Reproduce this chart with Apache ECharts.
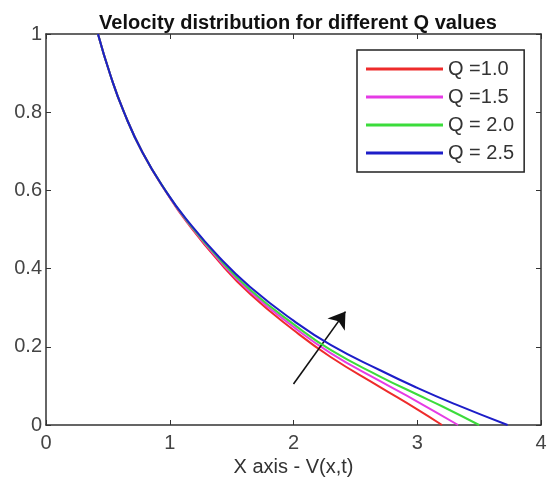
<!DOCTYPE html>
<html>
<head>
<meta charset="utf-8">
<script src="https://cdn.jsdelivr.net/npm/echarts@6/dist/echarts.min.js"></script>
<style>
  html, body { margin: 0; padding: 0; background: #fff; }
  #chart { width: 548px; height: 483px; }
</style>
</head>
<body>
<div id="chart"></div>
<script>
var names = ['Q =1.0', 'Q =1.5', 'Q = 2.0', 'Q = 2.5'];
var colors = ['#ee2b2b', '#e53be5', '#3bdc3b', '#1d1dc8'];

// values
var xRed = [0.42, 0.52, 0.63, 0.78, 0.975, 1.14, 1.4, 1.65, 2.0, 2.3, 2.7, 3.0, 3.2];
var yRed = [1.0, 0.895, 0.80, 0.697, 0.594, 0.518, 0.417, 0.335, 0.243, 0.174, 0.097, 0.04, 0];
var xMag = [0.42, 0.52, 0.63, 0.78, 0.975, 1.14, 1.4, 1.65, 2.0, 2.3, 2.7, 3.0, 3.33];
var yMag = [1.0, 0.895, 0.80, 0.697, 0.594, 0.52, 0.421, 0.341, 0.251, 0.184, 0.112, 0.06, 0];
var xGrn = [0.42, 0.52, 0.63, 0.78, 0.975, 1.14, 1.4, 1.65, 2.0, 2.3, 2.7, 3.0, 3.2, 3.5];
var yGrn = [1.0, 0.895, 0.80, 0.697, 0.595, 0.522, 0.425, 0.346, 0.258, 0.192, 0.124, 0.078, 0.048, 0];
var xBlu = [0.42, 0.52, 0.63, 0.78, 0.975, 1.14, 1.4, 1.65, 2.0, 2.3, 2.7, 3.0, 3.3, 3.73];
var yBlu = [1.0, 0.895, 0.80, 0.697, 0.595, 0.524, 0.429, 0.353, 0.267, 0.205, 0.14, 0.095, 0.054, 0];

var arrowFrom = [2.0, 0.105];
var arrowTo = [2.42, 0.29];

function pairs(xs, ys) {
  return xs.map(function (x, i) { return [x, ys[i]]; });
}

var allX = [xRed, xMag, xGrn, xBlu];
var allY = [yRed, yMag, yGrn, yBlu];

var font = 'Liberation Sans';
var axisColor = '#333';
var myChart = echarts.init(document.getElementById('chart'));

var series = names.map(function (n, i) {
  return {
    name: n,
    type: 'line',
    data: pairs(allX[i], allY[i]),
    smooth: 0.5,
    showSymbol: false,
    symbol: 'none',
    lineStyle: {color: colors[i], width: 2},
    itemStyle: {color: colors[i]},
    z: 3 + i
  };
});

// the black arrow
series.push({
  type: 'line',
  data: [],
  silent: true,
  markLine: {
    silent: true,
    animation: false,
    symbol: ['none', 'arrow'],
    symbolSize: 16,
    label: {show: false},
    lineStyle: {color: '#111', width: 1.6, type: 'solid'},
    emphasis: {disabled: true},
    data: [[{coord: arrowFrom}, {coord: arrowTo}]]
  },
  z: 10
});

function ticks() {
  return {show: true, inside: true, length: 5, lineStyle: {color: axisColor, width: 1}};
}
function line() {
  return {show: true, onZero: false, lineStyle: {color: axisColor, width: 1.5}};
}

var option = {
  animation: false,
  backgroundColor: '#fff',
  title: {
    text: 'Velocity distribution for different Q values',
    left: 293, top: 8, textAlign: 'center',
    textStyle: {fontFamily: font, fontSize: 20, fontWeight: 'bold', color: '#111'}
  },
  legend: {
    data: names,
    orient: 'vertical',
    left: 357, top: 50,
    padding: [9, 10, 9, 9],
    icon: 'rect',
    itemWidth: 77, itemHeight: 3, itemGap: 8,
    borderColor: '#222', borderWidth: 1.5,
    backgroundColor: '#fff',
    textStyle: {fontFamily: font, fontSize: 20, color: '#333'}
  },
  grid: {left: 46, right: 7, top: 34, bottom: 58, containLabel: false, outerBoundsMode: 'none'},
  xAxis: [{
    type: 'value', min: 0, max: 4, interval: 1,
    name: 'X axis - V(x,t)', nameLocation: 'middle', nameGap: 32,
    nameTextStyle: {fontFamily: font, fontSize: 20, color: '#333'},
    axisLine: line(),
    axisTick: ticks(),
    axisLabel: {fontFamily: font, fontSize: 20, color: '#444', margin: 8},
    splitLine: {show: false}
  }, {
    type: 'value', min: 0, max: 4, interval: 1, position: 'top',
    axisLine: line(),
    axisTick: ticks(),
    axisLabel: {show: false}, splitLine: {show: false}
  }],
  yAxis: [{
    type: 'value', min: 0, max: 1, interval: 0.2, position: 'left',
    axisLine: line(),
    axisTick: ticks(),
    axisLabel: {fontFamily: font, fontSize: 20, color: '#444', margin: 4,
      formatter: function (v) { return String(Math.round(v * 10) / 10); }},
    splitLine: {show: false}
  }, {
    type: 'value', min: 0, max: 1, interval: 0.2, position: 'right',
    axisLine: line(),
    axisTick: ticks(),
    axisLabel: {show: false}, splitLine: {show: false}
  }],
  series: series
};

myChart.setOption(option);
</script>
</body>
</html>
